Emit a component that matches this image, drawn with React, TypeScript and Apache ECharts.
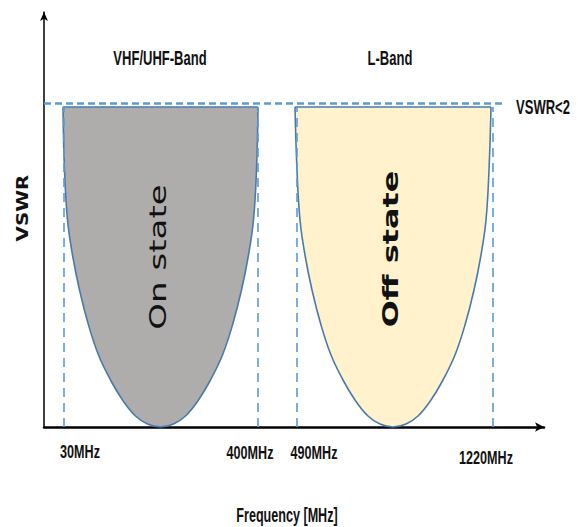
import React, { useEffect, useRef } from "react";
import * as echarts from "echarts";

// Schematic axes (relative units): x = frequency position, y = VSWR level
const X_MAX = 500;
const Y_MAX = 415;
const BAND_TOP = 320; // top of the U-shaped bands
const VSWR2_LEVEL = 323.5; // dashed VSWR<2 line
const VSWR2_END = 459;

// Frequency tick positions and labels
const TICK_POS = [20, 214, 253, 449];
const TICK_LABELS = ["30MHz", "400MHz", "490MHz", "1220MHz"];

// U-shaped VSWR curve of the VHF/UHF band (On state)
const ON_STATE_CURVE: [number, number][] = [
  [19, 320], [20.5, 257], [23.5, 207], [28.5, 172], [35.5, 137], [44.5, 102],
  [54.5, 72], [66.5, 47], [78.5, 27], [91.5, 11], [103.5, 3], [116.5, 0],
  [129.5, 3], [141.5, 11], [154.5, 27], [166.5, 47], [178.5, 72], [188.5, 102],
  [197.5, 137], [204.5, 172], [209.5, 207], [212.5, 257], [214, 320],
];

// U-shaped VSWR curve of the L band (Off state)
const OFF_STATE_CURVE: [number, number][] = [
  [251, 320], [253, 257], [256, 207], [261, 172], [268, 137], [277, 102],
  [287, 72], [299, 47], [311, 27], [324, 11], [336, 3], [349, 0],
  [362, 3], [374, 11], [387, 27], [399, 47], [411, 72], [421, 102],
  [430, 137], [437, 172], [442, 207], [445, 257], [447, 320],
];

const NARROW = "'Liberation Sans', Arial, sans-serif";
const WIDE = "'DejaVu Sans', Verdana, sans-serif";

function txt(
  text: string,
  x: number,
  y: number,
  font: string,
  scaleX: number,
  rotation = 0
) {
  return {
    type: "text",
    x,
    y,
    rotation,
    scaleX,
    scaleY: 1,
    silent: true,
    z: 10,
    style: {
      text,
      font,
      fill: "#111",
      align: "center",
      verticalAlign: "middle",
      textAlign: "center",
      textVerticalAlign: "middle",
    },
  };
}

function bandSeries(points: [number, number][], fill: string) {
  return {
    type: "custom",
    coordinateSystem: "cartesian2d",
    silent: true,
    z: 3,
    data: [[points[0][0], points[0][1]]],
    renderItem: (_params: any, api: any) => {
      const pts = points.map((p) => api.coord(p));
      const first = pts[0];
      const last = pts[pts.length - 1];
      return {
        type: "group",
        children: [
          {
            type: "polyline",
            shape: { points: pts, smooth: 0.4 },
            style: { fill, stroke: "#4a7aab", lineWidth: 1.6 },
          },
          {
            type: "line",
            shape: { x1: first[0], y1: first[1], x2: last[0], y2: last[1] },
            style: { stroke: "#4a7aab", lineWidth: 1.6 },
          },
        ],
      };
    },
  };
}

export default function App() {
  const ref = useRef<HTMLDivElement>(null);

  useEffect(() => {
    document.body.style.margin = "0";
    if (!ref.current) return;
    const chart = echarts.init(ref.current, null, { renderer: "svg" });

    const tickCenters = [
      [80, 452],
      [250, 453],
      [314, 453],
      [486, 458],
    ];

    const option: any = {
      animation: false,
      backgroundColor: "#ffffff",
      grid: { left: 44, top: 12, width: 500, height: 415, containLabel: false },
      xAxis: {
        type: "value",
        min: 0,
        max: X_MAX,
        axisLine: {
          show: true,
          symbol: ["none", "arrow"],
          symbolSize: [7, 9],
          lineStyle: { color: "#000", width: 2.5 },
        },
        axisTick: { show: false },
        axisLabel: { show: false },
        splitLine: { show: false },
      },
      yAxis: {
        type: "value",
        min: 0,
        max: Y_MAX,
        axisLine: {
          show: true,
          symbol: ["none", "arrow"],
          symbolSize: [6, 9],
          lineStyle: { color: "#000", width: 1.5 },
        },
        axisTick: { show: false },
        axisLabel: { show: false },
        splitLine: { show: false },
      },
      series: [
        {
          type: "line",
          z: 1,
          silent: true,
          showSymbol: false,
          data: [[0, 0]],
          lineStyle: { opacity: 0 },
          markLine: {
            silent: true,
            symbol: "none",
            label: { show: false },
            lineStyle: { color: "#5b9bd5", width: 1.6, type: [9, 6] },
            data: [
              ...TICK_POS.map((x) => [{ coord: [x, 0] }, { coord: [x, BAND_TOP] }]),
              [
                {
                  coord: [0, VSWR2_LEVEL],
                  lineStyle: { color: "#5b9bd5", width: 2.5, type: [7, 4] },
                },
                { coord: [VSWR2_END, VSWR2_LEVEL] },
              ],
            ],
          },
        },
        bandSeries(ON_STATE_CURVE, "#afacac"),
        bandSeries(OFF_STATE_CURVE, "#fff2cc"),
      ],
      graphic: [
        txt("VHF/UHF-Band", 160, 58, `bold 21px ${NARROW}`, 0.62),
        txt("L-Band", 390, 58, `bold 21px ${NARROW}`, 0.62),
        txt("VSWR<2", 543, 107, `bold 21px ${NARROW}`, 0.62),
        ...TICK_LABELS.map((t, i) =>
          txt(t, tickCenters[i][0], tickCenters[i][1], `bold 18px ${NARROW}`, 0.7)
        ),
        txt("Frequency [MHz]", 287, 515, `bold 21px ${NARROW}`, 0.6),
        txt("VSWR", 22.5, 208, `bold 16px ${WIDE}`, 1.24, Math.PI / 2),
        txt("On state", 158, 257, `23px ${WIDE}`, 1.48, Math.PI / 2),
        txt("Off state", 390, 249, `bold 22px ${WIDE}`, 1.45, Math.PI / 2),
      ],
    };

    chart.setOption(option);
    return () => chart.dispose();
  }, []);

  return <div ref={ref} style={{ width: 579, height: 527 }} />;
}
